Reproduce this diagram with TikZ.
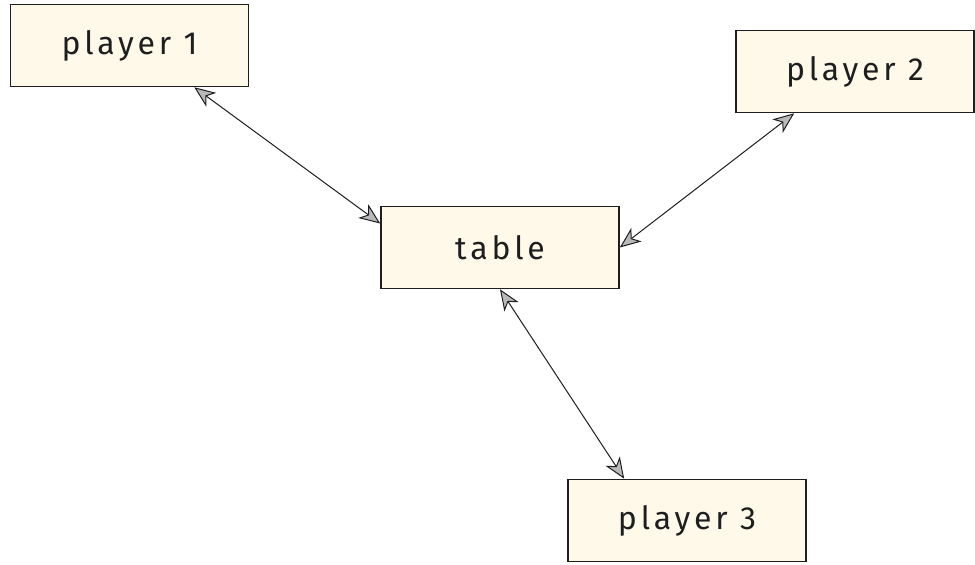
\documentclass[tikz,border=0pt]{standalone}
\usepackage{fontspec}
\setmainfont{Fira Sans}[LetterSpace=12]
\usepackage{xcolor}
\usepackage{tikz}
\usetikzlibrary{shapes,arrows.meta,positioning}
\definecolor{paper}{RGB}{255,249,234}
\definecolor{ink}{RGB}{30,30,30}
\tikzstyle{block} = [rectangle, draw=ink, line width=1.6pt, fill=paper, text=ink, minimum width=238pt, minimum height=82pt, font=\fontsize{32}{40}\selectfont]
\tikzstyle{line} = [draw=ink, line width=1pt, {Stealth[length=21pt,width=17pt,inset=6pt,fill=gray!55]}-{Stealth[length=21pt,width=17pt,inset=6pt,fill=gray!55]}]

\begin{document}
\begin{tikzpicture}[x=1pt, y=-1pt]
    \fill [white] (0,0) rectangle (975,565);
    \useasboundingbox (0,0) rectangle (975,565);

    \node [block] (player1) at (129.5,45.5) {player 1};
    \node [block] (player2) at (855,71.5) {player 2};
    \node [block] (table) at (500,247.5) {table};
    \node [block] (player3) at (687,520.5) {player 3};

    \path [line] ([xshift=-55pt]player1.south east) -- ([yshift=24pt]table.west);
    \path [line] ([xshift=59pt]player2.south west) -- (table.east);
    \path [line] (table.south) -- ([xshift=57pt]player3.north west);
\end{tikzpicture}
\end{document}
